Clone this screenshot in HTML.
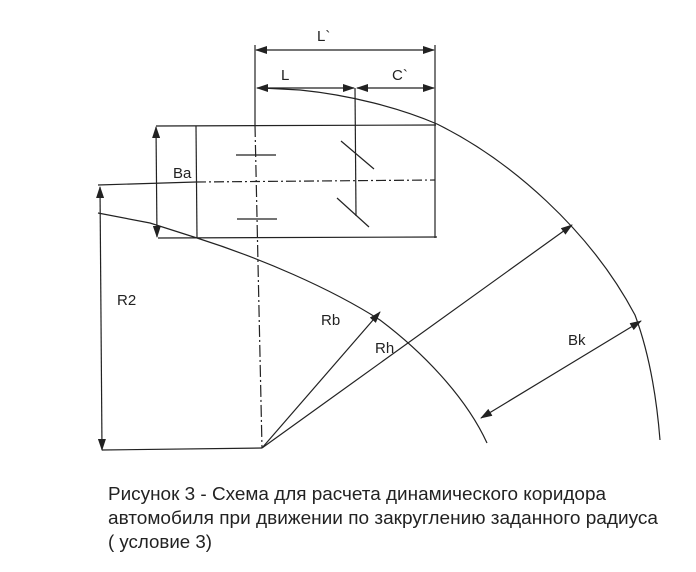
<!DOCTYPE html>
<html><head><meta charset="utf-8"><style>
body{margin:0;background:#fff;width:696px;height:572px;overflow:hidden}
svg{position:absolute;left:0;top:0}
.t{font-family:"Liberation Sans",Arial,sans-serif;fill:#222}
</style></head><body>
<svg width="696" height="572" viewBox="0 0 696 572">
<defs><marker id="a" markerWidth="12" markerHeight="8" refX="11" refY="4" orient="auto-start-reverse" markerUnits="userSpaceOnUse"><path d="M0,0 L12,4 L0,8z" fill="#222"/></marker></defs>
<g stroke="#222" stroke-width="1.2" fill="none">
<line x1="255" y1="45" x2="255" y2="125"/>
<line x1="435" y1="45" x2="435" y2="238"/>
<line x1="256" y1="50" x2="434" y2="50" marker-start="url(#a)" marker-end="url(#a)"/>
<line x1="257" y1="88" x2="354" y2="88" marker-start="url(#a)" marker-end="url(#a)"/>
<line x1="357" y1="88" x2="434" y2="88" marker-start="url(#a)" marker-end="url(#a)"/>
<line x1="355" y1="88" x2="356" y2="216"/>
<line x1="156" y1="126" x2="436" y2="125"/>
<line x1="158" y1="238" x2="437" y2="237"/>
<line x1="196" y1="126" x2="197" y2="238"/>
<line x1="156" y1="127" x2="157" y2="237" marker-start="url(#a)" marker-end="url(#a)"/>
<line x1="98" y1="185" x2="196" y2="182"/>
<line x1="196" y1="182" x2="435" y2="180" stroke-dasharray="10,3,2,3"/>
<line x1="255" y1="125" x2="262" y2="448" stroke-dasharray="12,3,2,3"/>
<line x1="236" y1="155" x2="276" y2="155"/>
<line x1="237" y1="219" x2="277" y2="219"/>
<line x1="341" y1="141" x2="374" y2="169"/>
<line x1="337" y1="198" x2="369" y2="227"/>
<line x1="100" y1="187" x2="102" y2="450" marker-start="url(#a)" marker-end="url(#a)"/>
<line x1="102" y1="450" x2="262" y2="448"/>
<path d="M98,213 L150,223 L197,238 C260,258 330,288 380,320 C420,350 465,395 487,443"/>
<path d="M262,88 L300,90 C350,95 400,108 437,124 C510,160 590,230 635,315 C648,350 656,390 660,440"/>
<line x1="262" y1="448" x2="380" y2="312" marker-end="url(#a)"/>
<line x1="262" y1="448" x2="572" y2="225" marker-end="url(#a)"/>
<line x1="481" y1="418" x2="641" y2="321" marker-start="url(#a)" marker-end="url(#a)"/>
</g>
<g class="t" font-size="15">
<text x="317" y="41">L`</text>
<text x="281" y="80">L</text>
<text x="392" y="80">C`</text>
<text x="173" y="178">Ba</text>
<text x="117" y="305">R2</text>
<text x="321" y="325">Rb</text>
<text x="375" y="353">Rh</text>
<text x="568" y="345">Bk</text>
</g>
<g class="t" font-size="18">
<text x="108" y="500" textLength="498" lengthAdjust="spacingAndGlyphs">Рисунок 3 -  Схема для расчета динамического коридора</text>
<text x="108" y="524" textLength="550" lengthAdjust="spacingAndGlyphs">автомобиля при движении по закруглению заданного радиуса</text>
<text x="108" y="548" textLength="104" lengthAdjust="spacingAndGlyphs">( условие 3)</text>
</g>
</svg>
</body></html>
